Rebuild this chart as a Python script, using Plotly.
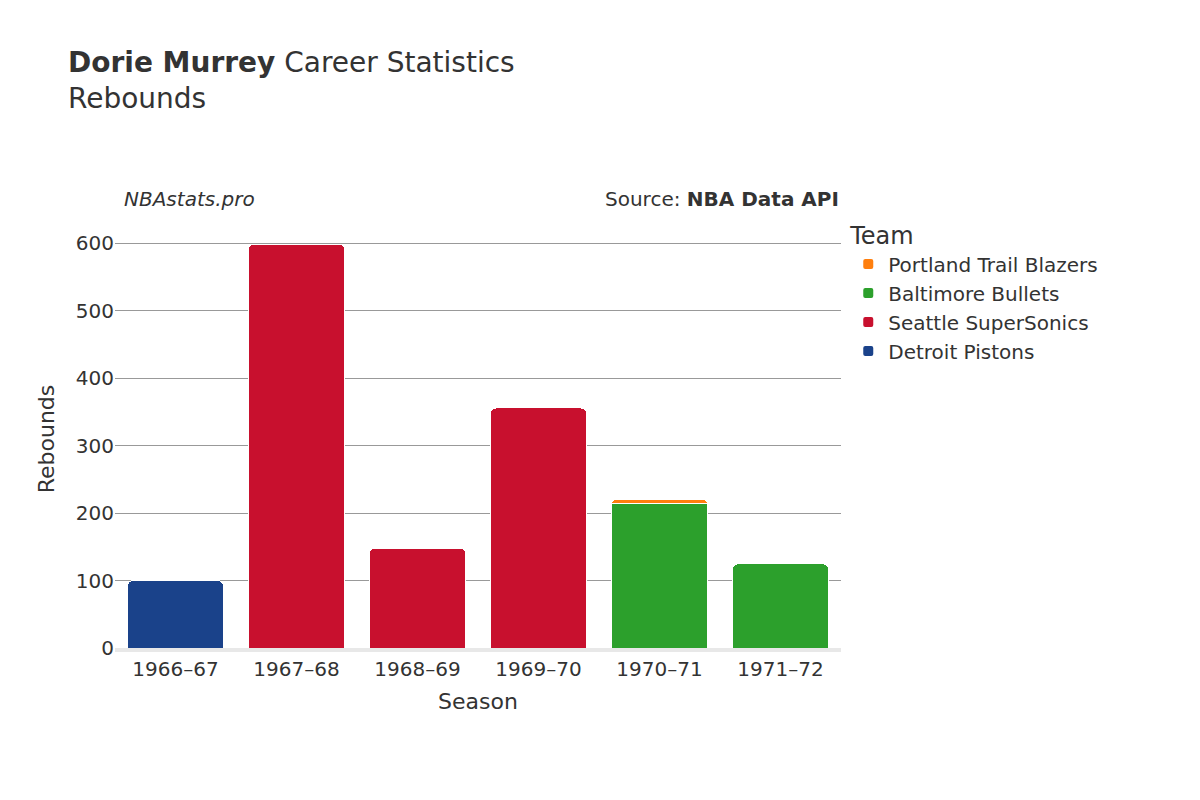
import plotly.graph_objects as go

seasons = ["1966–67", "1967–68", "1968–69", "1969–70", "1970–71", "1971–72"]
teams = ["Detroit Pistons", "Seattle SuperSonics", "Baltimore Bullets", "Portland Trail Blazers"]
colors = ["#1a428a", "#c8102e", "#2ca02c", "#ff7f0e"]
values = {
    "Detroit Pistons": [100, None, None, None, None, None],
    "Seattle SuperSonics": [None, 599, 148, 356, None, None],
    "Baltimore Bullets": [None, None, None, None, 214, 125],
    "Portland Trail Blazers": [None, None, None, None, 7, None],
}

fig = go.Figure()
for t, c in zip(teams, colors):
    fig.add_trace(go.Bar(x=seasons, y=values[t], name=t, marker_color=c,
                         marker_line=dict(color="white", width=1)))

fig.update_layout(
    barmode="stack", barcornerradius=6, bargap=0.2,
    width=1200, height=800, plot_bgcolor="white", paper_bgcolor="white",
    font=dict(family="DejaVu Sans", size=20, color="#333"),
    title=dict(text="<b>Dorie Murrey</b> Career Statistics<br>Rebounds", x=0.05, y=0.92,
               xanchor="left", yanchor="top", font=dict(size=28)),
    margin=dict(l=107, r=367, t=222, b=160),
    xaxis=dict(title=dict(text="Season", font=dict(size=22)), showline=True, linecolor="#e8e8e8", linewidth=4),
    yaxis=dict(title=dict(text="Rebounds", font=dict(size=22)), gridcolor="#999", range=[0, 620],
               dtick=100, zeroline=False),
    legend=dict(title=dict(text="Team", font=dict(size=24)), x=1.01, y=1.04, yanchor="top",
                font=dict(size=20), itemsizing="constant"),
    annotations=[
        dict(text="<i>NBAstats.pro</i>", xref="paper", yref="paper", x=0.01, y=1.04,
             xanchor="left", yanchor="bottom", showarrow=False, font=dict(size=20)),
        dict(text="Source: <b>NBA Data API</b>", xref="paper", yref="paper", x=1, y=1.04,
             xanchor="right", yanchor="bottom", showarrow=False, font=dict(size=20)),
    ],
)
fig.write_html("out.html")
